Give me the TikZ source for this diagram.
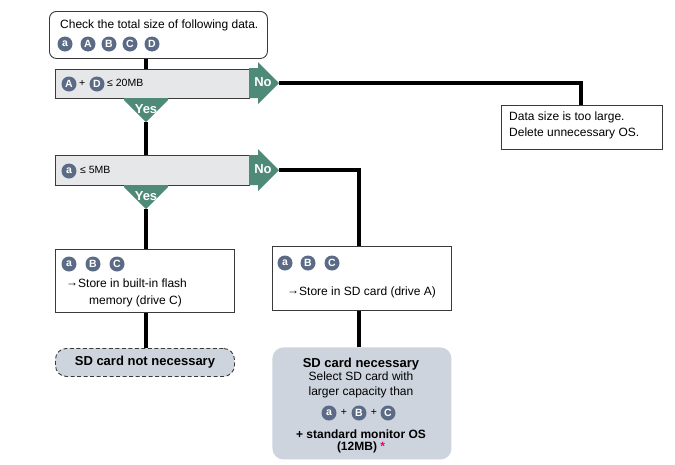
\documentclass[tikz,border=0pt]{standalone}
\usepackage{fontspec}
\setmainfont{Liberation Sans}
\usetikzlibrary{calc}

\definecolor{badgecol}{HTML}{5B6B86}
\definecolor{gocol}{HTML}{4F8A78}
\definecolor{condfill}{HTML}{E6E7E8}
\definecolor{resfill}{HTML}{CDD4DE}
\definecolor{edgecol}{HTML}{3A3A3A}
\definecolor{starpink}{HTML}{E6007E}

\newcommand{\toarrow}{\raisebox{1.5pt}{→}}

\tikzset{
  box/.style={draw=edgecol, line width=0.9pt, fill=white, inner sep=0pt, anchor=north west},
  condbox/.style={box, fill=condfill},
  roundbox/.style={box, rounded corners=7pt},
  resultbox/.style={box, draw=none, fill=resfill, rounded corners=11pt},
  dashbox/.style={box, fill=resfill, rounded corners=11pt, dash pattern=on 4pt off 2.5pt},
  badge/.style={circle, fill=badgecol, text=white, inner sep=0pt, minimum size=15pt,
    font=\fontsize{10.5}{10.5}\selectfont\bfseries},
  txt/.style={inner sep=0pt, anchor=mid west, font=\fontsize{12}{14}\selectfont},
  smalltxt/.style={txt, font=\fontsize{10.5}{12}\selectfont},
  ctxt/.style={inner sep=0pt, anchor=mid, font=\fontsize{12}{14}\selectfont},
  boldtxt/.style={ctxt, font=\fontsize{13}{14}\selectfont\bfseries},
  answer/.style={fill=gocol},
  answertxt/.style={inner sep=0pt, text=white, font=\fontsize{13}{14}\selectfont\bfseries},
  flow/.style={line width=3.5pt, black},
}

\begin{document}
\begin{tikzpicture}[x=1pt, y=-1pt]
  \useasboundingbox (0,0) rectangle (675,464);

  % x positions of the vertical flow lines
  \coordinate (spine) at (146,0);
  \coordinate (side) at (359,0);
  \coordinate (far) at (581,0);

  % ---- start box ----
  \node[roundbox, minimum width=218pt, minimum height=47pt] (start) at (49,11) {};
  \node[txt] (q) at (60,26) {Check the total size of following data.};
  \node[badge] (s1) at (65,44) {a};
  \node[badge] (s2) at (88,44) {A};
  \node[badge] (s3) at (109,44) {B};
  \node[badge] (s4) at (130,44) {C};
  \node[badge] (s5) at (152,44) {D};

  % ---- condition 1 ----
  \node[condbox, minimum width=194pt, minimum height=29pt] (c1) at (55,69) {};
  \node[badge] (c1a) at (69,84) {A};
  \node[smalltxt] (c1p) at (79,84) {+};
  \node[badge] (c1d) at (97,84) {D};
  \node[smalltxt] (c1t) at (107,84) {≤ 20MB};

  % ---- condition 2 ----
  \node[condbox, minimum width=194pt, minimum height=30pt] (c2) at (55,155) {};
  \node[badge] (c2a) at (69,171) {a};
  \node[smalltxt] (c2t) at (80,171) {≤ 5MB};

  % ---- too large ----
  \node[box, minimum width=161pt, minimum height=44pt] (big) at (501,105) {};
  \node[txt] (big1) at (509,118) {Data size is too large.};
  \node[txt] (big2) at (509,134) {Delete unnecessary OS.};

  % ---- store in flash ----
  \node[box, minimum width=179pt, minimum height=63pt] (flash) at (55,249) {};
  \node[badge] (f1) at (69,264) {a};
  \node[badge] (f2) at (93,264) {B};
  \node[badge] (f3) at (117,264) {C};
  \node[txt] (f4) at (66,285) {\toarrow Store in built-in flash};
  \node[txt] (f5) at (89,302) {memory (drive C)};

  % ---- store in SD ----
  \node[box, minimum width=179pt, minimum height=64pt] (sd) at (272,246) {};
  \node[badge] (d1) at (285,263) {a};
  \node[badge] (d2) at (308,263) {B};
  \node[badge] (d3) at (332,263) {C};
  \node[txt] (d4) at (287,293) {\toarrow Store in SD card (drive A)};

  % ---- SD not necessary ----
  \node[dashbox, minimum width=179pt, minimum height=28pt] (nonec) at (55,348) {};
  \node[boldtxt] (nonect) at (nonec.center) {SD card not necessary};

  % ---- SD necessary ----
  \node[resultbox, minimum width=179pt, minimum height=112pt] (nec) at (272,347) {};
  \node[boldtxt] (n1) at (361,365) {SD card necessary};
  \node[ctxt] (n2) at (361,378) {Select SD card with};
  \node[ctxt] (n3) at (361,393) {larger capacity than};
  \node[badge] (n4) at (329,413) {a};
  \node[smalltxt, anchor=mid] (n5) at (344,413) {+};
  \node[badge] (n6) at (359,413) {B};
  \node[smalltxt, anchor=mid] (n7) at (374,413) {+};
  \node[badge] (n8) at (388,413) {C};
  \node[boldtxt, font=\fontsize{12}{14}\selectfont\bfseries] (n9) at (361,436) {+ standard monitor OS};
  \node[boldtxt, font=\fontsize{12}{14}\selectfont\bfseries] (n10) at (361,448)
    {(12MB) \textcolor{starpink}{*}};

  % ---- answer arrows ----
  \fill[answer] (249,68) -- (258,68) -- (258,62) -- (279,83) -- (258,104) -- (258,98) -- (249,98) -- cycle;
  \coordinate (no1) at (279,83);
  \node[answertxt] (no1t) at (263,82) {No};
  \fill[answer] (124,98) -- (168,98) -- (168,100) -- (146,122) -- (124,100) -- cycle;
  \coordinate (yes1) at (146,122);
  \node[answertxt] (yes1t) at (146,109) {Yes};

  \fill[answer] (249,155) -- (258,155) -- (258,149) -- (279,170) -- (258,191) -- (258,185) -- (249,185) -- cycle;
  \coordinate (no2) at (279,170);
  \node[answertxt] (no2t) at (263,169) {No};
  \fill[answer] (124,185) -- (168,185) -- (168,187) -- (146,209) -- (124,187) -- cycle;
  \coordinate (yes2) at (146,209);
  \node[answertxt] (yes2t) at (146,196) {Yes};

  % ---- connectors ----
  \draw[flow] (start.south -| spine) -- (c1.north -| spine);
  \draw[flow] (yes1) -- (c2.north -| spine);
  \draw[flow] (yes2) -- (flash.north -| spine);
  \draw[flow] (flash.south -| spine) -- (nonec.north -| spine);
  \draw[flow] (no1) -- (no1 -| far) -- (big.north -| far);
  \draw[flow] (no2) -- (no2 -| side) -- (sd.north -| side);
  \draw[flow] (sd.south -| side) -- (nec.north -| side);
\end{tikzpicture}
\end{document}
